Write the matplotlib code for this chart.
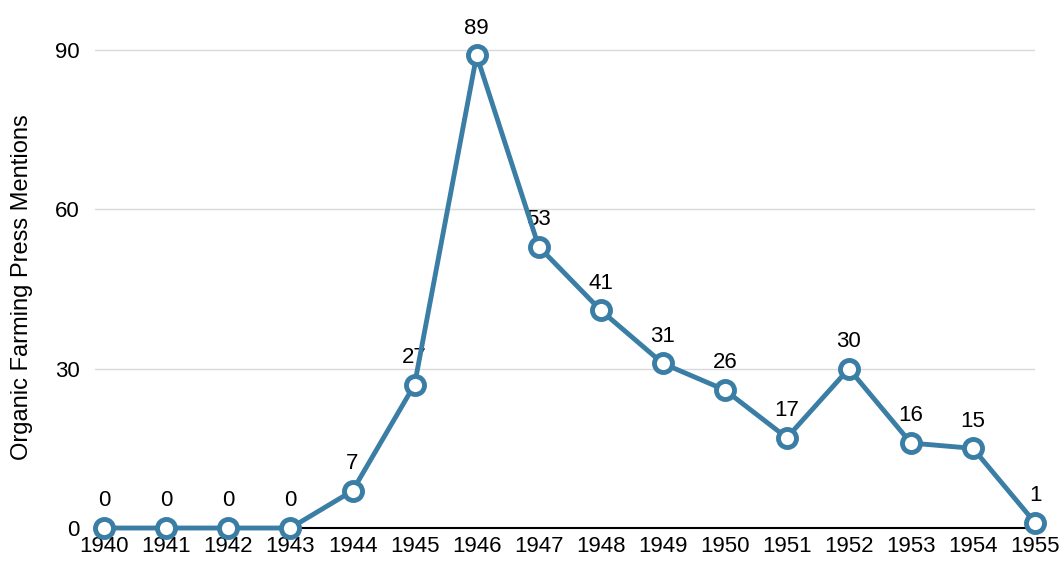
import matplotlib.pyplot as plt

plt.rcParams['font.family'] = ['Liberation Sans', 'DejaVu Sans']

years = [1940, 1941, 1942, 1943, 1944, 1945, 1946, 1947, 1948, 1949, 1950, 1951, 1952, 1953, 1954, 1955]
mentions = [0, 0, 0, 0, 7, 27, 89, 53, 41, 31, 26, 17, 30, 16, 15, 1]

color = '#3a7ea5'

fig = plt.figure(figsize=(10.63, 5.61), dpi=100)
ax = fig.add_axes([0.0894, 0.0588, 0.9737 - 0.0894, 0.958 - 0.0588])

ax.plot(years, mentions, color=color, lw=3.5, marker='o', ms=13,
        mfc='white', mec=color, mew=3.5, clip_on=False, zorder=5)

for x, y in zip(years, mentions):
    ax.annotate(str(y), (x, y), xytext=(0, 12), textcoords='offset points',
                ha='center', va='bottom', fontsize=16)

ax.set_xlim(1939.85, 1955)
ax.set_ylim(0, 95)
ax.set_yticks([0, 30, 60, 90])
ax.set_xticks(years)
ax.grid(axis='y', color='#d9d9d9', lw=1)
ax.set_axisbelow(True)
for s in ['top', 'right', 'left']:
    ax.spines[s].set_visible(False)
ax.spines['bottom'].set_color('black')
ax.spines['bottom'].set_linewidth(1.5)
ax.tick_params(length=0, labelsize=16)
ax.tick_params(axis='y', pad=11)
ax.tick_params(axis='x', pad=6)
fig.text(22 / 1063, 0.488, 'Organic Farming Press Mentions', rotation=90,
         ha='center', va='center', fontsize=17)

plt.savefig('out.png', dpi=100)
